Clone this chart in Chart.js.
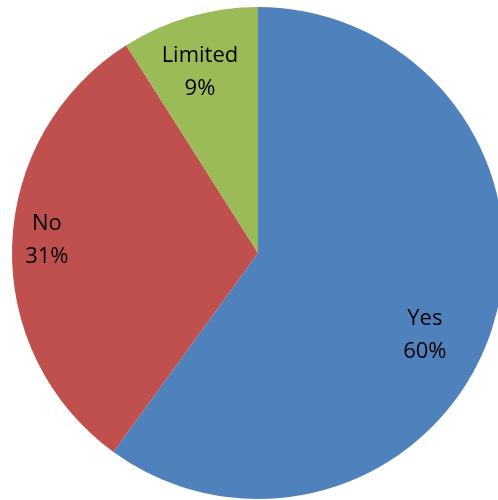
<!DOCTYPE html>
<html>
<head>
<meta charset="utf-8">
<script src="https://cdn.jsdelivr.net/npm/chart.js@4"></script>
<style>
  html, body { margin: 0; padding: 0; background: #fff; overflow: hidden; }
  #pie { display: block; }
</style>
</head>
<body>
<canvas id="pie" width="520" height="500"></canvas>
<script>
/* data */
const categories = ["Yes", "No", "Limited"];
const shares = [60, 31, 9];
const pctLabels = ["60%", "31%", "9%"];

/* styles */
const sliceColors = ['#4F81BD', '#C0504D', '#9BBB59'];
const labelRadius = [0.756, 0.86, 0.772];
const labelShift = [8.2, 1.7, -1.6]; // degrees

// simple data label plugin (category + percent, two lines)
const pieLabels = {
    id: 'pieLabels',
    afterDatasetsDraw(chart) {
        const c = chart.ctx;
        const arcs = chart.getDatasetMeta(0).data;
        c.save();
        c.font = '22px "Open Sans"';
        c.fillStyle = '#000';
        c.textAlign = 'center';
        c.textBaseline = 'middle';
        arcs.forEach((arc, i) => {
            const ang = (arc.startAngle + arc.endAngle) / 2 + labelShift[i] * Math.PI / 180;
            const r = arc.outerRadius * labelRadius[i];
            const x = arc.x + Math.cos(ang) * r;
            const y = arc.y + Math.sin(ang) * r;
            c.fillText(categories[i], x, y - 16);
            c.fillText(pctLabels[i], x, y + 17);
        });
        c.restore();
    }
};

new Chart(document.getElementById('pie'), {
    type: 'pie',
    data: {
        labels: categories,
        datasets: [{
            data: shares,
            backgroundColor: sliceColors,
            borderWidth: 0
        }]
    },
    options: {
        responsive: false,
        animation: false,
        layout: { padding: { left: 12, right: 16, top: 7, bottom: 1 } },
        plugins: {
            legend: { display: false },
            tooltip: { enabled: false }
        }
    },
    plugins: [pieLabels]
});
</script>
</body>
</html>
